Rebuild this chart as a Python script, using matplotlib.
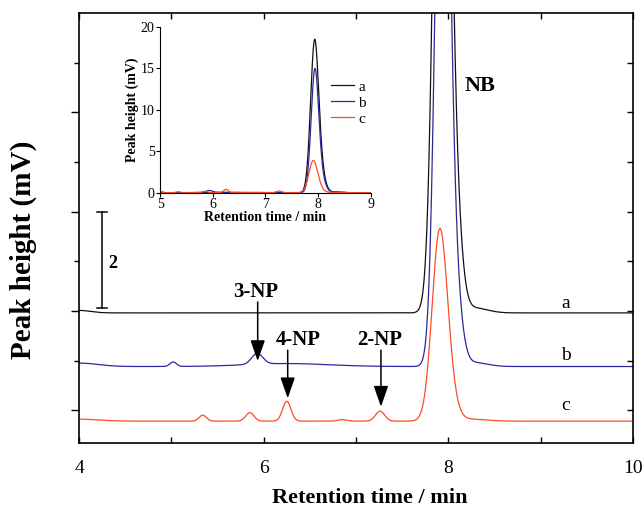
import numpy as np
import matplotlib
matplotlib.use("Agg")
import matplotlib.pyplot as plt

plt.rcParams['font.family'] = ['Liberation Serif', 'DejaVu Serif']

# ---- data (retention time in min, height in mV) ----
# baselines of the stacked traces in the main panel
baseline_a = 1.96
baseline_b = 0.88
baseline_c = -0.22

# peak tables: centre, height, width (sigma)
peaks_a_t = [4.00, 7.935, 8.08, 8.28]
peaks_a_h = [0.05, 18.3, 1.5, 0.10]
peaks_a_w = [0.12, 0.077, 0.07, 0.14]

peaks_b_t = [4.00, 5.02, 5.93, 6.25, 7.94, 8.08, 8.28]
peaks_b_h = [0.07, 0.09, 0.22, 0.06, 14.8, 1.2, 0.08]
peaks_b_w = [0.20, 0.035, 0.06, 0.45, 0.072, 0.07, 0.14]

peaks_c_t = [4.00, 5.34, 5.85, 6.25, 6.85, 7.26, 7.905, 8.02, 8.25]
peaks_c_h = [0.04, 0.12, 0.17, 0.40, 0.03, 0.20, 3.75, 0.35, 0.04]
peaks_c_w = [0.20, 0.04, 0.045, 0.045, 0.05, 0.05, 0.082, 0.08, 0.15]

trace_labels = ['a', 'b', 'c']
trace_colors = ['#111111', '#2a2a9c', '#ff4a22']
trace_label_y = [2.15, 1.10, 0.10]

annot_names = ['3-NP', '4-NP', '2-NP']
annot_x = [5.935, 6.26, 7.27]
annot_text_x = [5.91, 6.37, 7.26]
annot_text_y = [2.38, 1.41, 1.41]
annot_from_y = [2.18, 1.21, 1.21]
annot_tip_y = [0.99, 0.24, 0.07]

x_major = [4, 6, 8, 10]
inset_xticks = [5, 6, 7, 8, 9]
inset_yticks = [0, 5, 10, 15, 20]


def trace(t, centres, heights, widths, base):
    y = np.full_like(t, base, dtype=float)
    for c, h, w in zip(centres, heights, widths):
        y += h * np.exp(-(t - c) ** 2 / (2 * w ** 2))
    return y


fig = plt.figure(figsize=(6.43, 5.11), dpi=100)
ax = fig.add_axes([0.1229, 0.1331, 0.8616, 0.8415])

t = np.linspace(4, 10, 3000)
ya = trace(t, peaks_a_t, peaks_a_h, peaks_a_w, baseline_a)
yb = trace(t, peaks_b_t, peaks_b_h, peaks_b_w, baseline_b)
yc = trace(t, peaks_c_t, peaks_c_h, peaks_c_w, baseline_c)
for y, col in zip([ya, yb, yc], trace_colors):
    ax.plot(t, y, color=col, lw=0.9)

ax.set_xlim(4, 10)
ax.set_ylim(-0.66, 8.0)
ax.set_xticks(x_major)
ax.set_xticks([5, 7, 9], minor=True)
ax.set_yticks([0, 2, 4, 6])
ax.set_yticks([1, 3, 5, 7], minor=True)
ax.set_yticklabels([])
ax.tick_params(axis='x', which='both', direction='in', top=True, length=4, width=1, labelsize=14, pad=12)
ax.tick_params(axis='y', which='major', direction='out', length=6, width=1)
ax.tick_params(axis='y', which='minor', direction='out', length=3.5, width=1)
for s in ax.spines.values():
    s.set_linewidth(1.2)

# inward ticks on the right side
axr = ax.twinx()
axr.set_ylim(ax.get_ylim())
axr.set_yticks([0, 2, 4, 6])
axr.set_yticks([1, 3, 5, 7], minor=True)
axr.set_yticklabels([])
axr.tick_params(axis='y', which='both', direction='in', length=4, width=1)
for s in axr.spines.values():
    s.set_visible(False)

ax.set_xlabel('Retention time / min', fontsize=16, fontweight='bold', va='center')
ax.xaxis.set_label_coords(0.525, -0.128)
ax.set_ylabel('Peak height (mV)', fontsize=21, fontweight='bold')
ax.yaxis.set_label_coords(-0.075, 0.45)

# trace letters
for lab, yy in zip(trace_labels, trace_label_y):
    ax.text(9.27, yy, lab, fontsize=14, ha='center', va='center')

# NB label
ax.text(8.34, 6.53, 'NB', fontsize=16, fontweight='bold', ha='center', va='center')

# arrows
for name, x, tx, ty, fy, tip in zip(annot_names, annot_x, annot_text_x, annot_text_y, annot_from_y, annot_tip_y):
    ax.text(tx, ty, name, fontsize=15, fontweight='bold', ha='center', va='center')
    ax.annotate('', xy=(x, tip), xytext=(x, fy),
                arrowprops=dict(arrowstyle='-|>,head_length=0.8,head_width=0.28', color='k', lw=1.1,
                                mutation_scale=16, shrinkA=0, shrinkB=0))

# scale bar
ax.plot([4.25, 4.25], [2.05, 4.0], color='k', lw=1.1)
ax.plot([4.20, 4.30], [4.0, 4.0], color='k', lw=1.1)
ax.plot([4.20, 4.30], [2.05, 2.05], color='k', lw=1.1)
ax.text(4.37, 2.95, '2', fontsize=13, fontweight='bold', ha='center', va='center')

# ---- inset ----
ins = fig.add_axes([0.2493, 0.6229, 0.3272, 0.3249])
ti = np.linspace(5, 9, 2000)
ia = trace(ti, peaks_a_t, peaks_a_h, peaks_a_w, 0.0)
ib = trace(ti, peaks_b_t, peaks_b_h, peaks_b_w, 0.0)
ic = trace(ti, peaks_c_t, peaks_c_h, peaks_c_w, 0.0)
for y, col, lab in zip([ia, ib, ic], trace_colors, trace_labels):
    ins.plot(ti, y, color=col, lw=0.9, label=lab)
ins.set_xlim(5, 9)
ins.set_ylim(0, 20)
ins.set_xticks(inset_xticks)
ins.set_yticks(inset_yticks)
ins.spines['top'].set_visible(False)
ins.spines['right'].set_visible(False)
ins.patch.set_alpha(0)
ins.tick_params(direction='out', length=3, width=0.8, labelsize=10, pad=1)
ins.set_xlabel('Retention time / min', fontsize=10, fontweight='bold', labelpad=0)
ins.set_ylabel('Peak height (mV)', fontsize=10, fontweight='bold', labelpad=1)
ins.legend(loc='upper left', bbox_to_anchor=(0.775, 0.725), frameon=False, fontsize=11,
           handlelength=1.5, handletextpad=0.3, labelspacing=0.15, borderpad=0)

fig.savefig('out.png', dpi=100)
